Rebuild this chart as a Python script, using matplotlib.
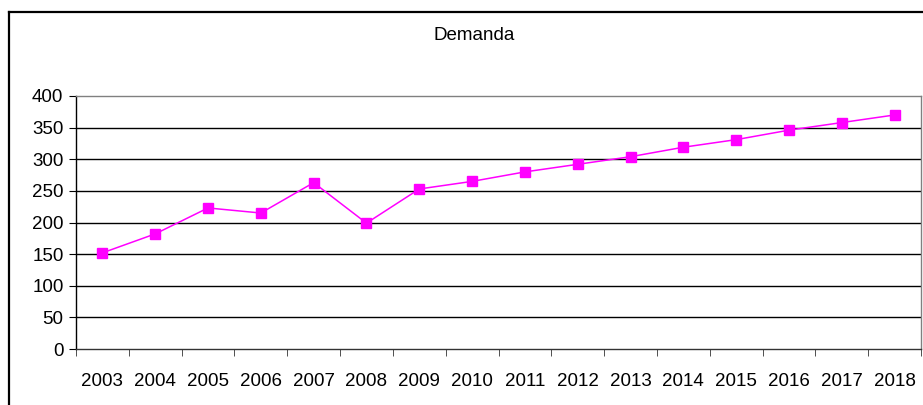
import matplotlib.pyplot as plt
from matplotlib.lines import Line2D
import numpy as np

# 数据：年份与需求量
years = ["2003", "2004", "2005", "2006", "2007", "2008", "2009", "2010",
         "2011", "2012", "2013", "2014", "2015", "2016", "2017", "2018"]
demanda = [152, 182, 223, 215, 263, 199, 253, 265,
           280, 292, 304, 319, 331, 346, 358, 370]
y_ticks = [0, 50, 100, 150, 200, 250, 300, 350, 400]

plt.rcParams["font.family"] = ["Liberation Sans", "DejaVu Sans"]

W, H = 923, 405
fig = plt.figure(figsize=(W / 100, H / 100), dpi=100)
ax = fig.add_axes([76 / W, (H - 349) / H, (921 - 76) / W, (349 - 96) / H])

x = np.arange(len(years))
ax.plot(x, demanda, color="#ff00ff", linewidth=1.1, marker="s",
        markersize=6.8, markerfacecolor="#ff00ff", markeredgecolor="#ff00ff")

ax.set_xlim(-0.5, len(years) - 0.5)
ax.set_ylim(0, 400)
ax.set_yticks(y_ticks)
ax.set_xticks(x)
ax.set_xticklabels(years)
ax.set_xticks(np.arange(len(years) + 1) - 0.5, minor=True)
ax.tick_params(axis="x", which="major", length=0, pad=17, labelsize=13.5)
ax.tick_params(axis="x", which="minor", length=5, direction="out", color="#333333")
ax.tick_params(axis="y", length=5, direction="out", pad=4, labelsize=13.5)

for v in y_ticks[1:-1]:
    ax.axhline(v, color="black", linewidth=1.0, zorder=0)

ax.spines["top"].set_color("#808080")
ax.spines["right"].set_color("#808080")
ax.spines["bottom"].set_color("#333333")
ax.spines["left"].set_color("black")
for s in ax.spines.values():
    s.set_linewidth(1.0)

fig.text(474 / W, 1 - 36 / H, "Demanda", ha="center", va="center", fontsize=13.5)

# 外框（左、上）
fig.add_artist(Line2D([8.5 / W, 8.5 / W], [0, 1 - 12 / H], color="black", linewidth=1.6))
fig.add_artist(Line2D([8.5 / W, 1], [1 - 12 / H, 1 - 12 / H], color="black", linewidth=1.6))

fig.savefig("out.png", dpi=100)
